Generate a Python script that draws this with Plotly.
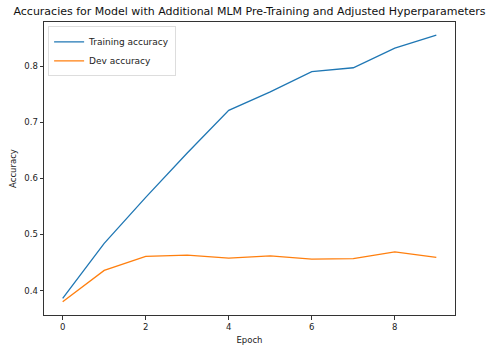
import plotly.graph_objects as go

epochs = [0, 1, 2, 3, 4, 5, 6, 7, 8, 9]
train_acc = [0.386, 0.484, 0.566, 0.645, 0.721, 0.754, 0.790, 0.797, 0.832, 0.855]
dev_acc = [0.380, 0.436, 0.461, 0.463, 0.458, 0.462, 0.456, 0.457, 0.469, 0.459]
x_ticks = [0, 2, 4, 6, 8]
y_ticks = [0.4, 0.5, 0.6, 0.7, 0.8]

font = "DejaVu Sans"

fig = go.Figure()
fig.add_trace(go.Scatter(x=epochs, y=train_acc, mode="lines", name="Training accuracy",
                         line=dict(color="#1f77b4", width=1.3)))
fig.add_trace(go.Scatter(x=epochs, y=dev_acc, mode="lines", name="Dev accuracy",
                         line=dict(color="#ff7f0e", width=1.3)))

axis_common = dict(showline=True, linecolor="#333333", linewidth=1, mirror=True,
                   showgrid=False, zeroline=False, ticks="outside", ticklen=3.5,
                   tickcolor="#333333", tickwidth=1, automargin=False,
                   tickfont=dict(family=font, size=8.5, color="#222222"))

fig.update_layout(
    width=490, height=345,
    margin=dict(l=44, r=35, t=22, b=30),
    paper_bgcolor="white", plot_bgcolor="white",
    title=dict(text="Accuracies for Model with Additional MLM Pre-Training and Adjusted Hyperparameters",
               x=(44 + 455) / 2 / 490, xanchor="center", y=1 - 11 / 345, yanchor="middle",
               font=dict(family=font, size=11, color="#111111")),
    xaxis=dict(range=[-0.45, 9.45], tickvals=x_ticks, ticktext=[str(v) for v in x_ticks],
               title=dict(text="Epoch", font=dict(family=font, size=8.5, color="#222222"), standoff=6),
               **axis_common),
    yaxis=dict(range=[0.3565, 0.8785], tickvals=y_ticks, ticktext=[f"{v:.1f}" for v in y_ticks],
               title=dict(text="Accuracy", font=dict(family=font, size=8.5, color="#222222"), standoff=6),
               **axis_common),
    legend=dict(x=0.01, y=0.985, xanchor="left", yanchor="top",
                bgcolor="rgba(255,255,255,0.8)", bordercolor="#dddddd", borderwidth=1,
                font=dict(family=font, size=9, color="#222222"),
                tracegroupgap=0, itemwidth=30),
    showlegend=True,
)

fig.write_html("out.html", config={"displayModeBar": False},
               post_script="document.body.style.margin='0';document.body.style.overflow='hidden';")
